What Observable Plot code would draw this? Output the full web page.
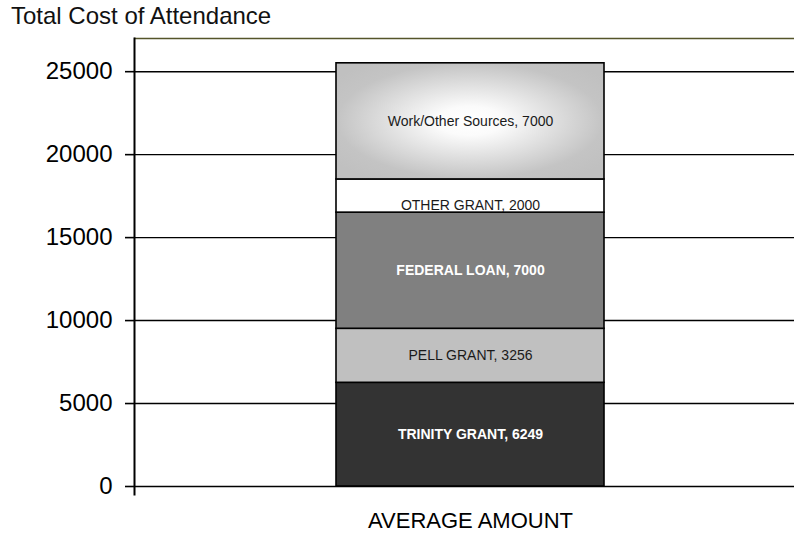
<!DOCTYPE html>
<html><head><meta charset="utf-8">
<script src="https://cdn.jsdelivr.net/npm/d3@7"></script>
<script src="https://cdn.jsdelivr.net/npm/@observablehq/plot@0.6"></script>
<style>
body{margin:0;background:#fff;overflow:hidden;font-family:"Liberation Sans",Arial,sans-serif}
#title{height:30px;font-size:24px;line-height:30px;padding-left:11px;color:#111;position:relative;top:1px;white-space:nowrap}
#chart svg{display:block}
</style></head><body>
<div id="title">Total Cost of Attendance</div>
<div id="chart"></div>
<script>
const group = "AVERAGE AMOUNT";
const sources = ["TRINITY GRANT", "PELL GRANT", "FEDERAL LOAN", "OTHER GRANT", "Work/Other Sources"];
const amounts = [6249, 3256, 7000, 2000, 7000];
const fills = ["#333333", "#c0c0c0", "#808080", "#ffffff", "url(#wgrad)"];
const yTicks = [0, 5000, 10000, 15000, 20000, 25000];
const yMax = 27000;
const darkLabels = ["TRINITY GRANT", "FEDERAL LOAN"];
const lowLabels = ["OTHER GRANT"];

const data = sources.map((s, i) => ({group, source: s, amount: amounts[i], label: `${s}, ${amounts[i]}`}));

const stackText = (pick) => Plot.stackY({
  x: "group", y: "amount",
  text: d => pick(d.source) ? d.label : null
});

const chart = Plot.plot({
  width: 794,
  height: 505,
  marginLeft: 134,
  marginRight: 0,
  marginTop: 8,
  marginBottom: 49,
  x: {domain: [group], range: [336, 604], padding: 0, axis: null, label: null},
  y: {domain: [0, yMax], axis: null, label: null},
  color: {domain: sources, range: fills},
  style: {fontFamily: "'Liberation Sans', Arial, sans-serif", color: "black", overflow: "visible", background: "white"},
  marks: [
    Plot.gridY(yTicks, {stroke: "black", strokeOpacity: 1, strokeWidth: 1.4}),
    Plot.ruleY([yMax], {stroke: "#55552a", strokeWidth: 1.6}),
    Plot.barY(data, Plot.stackY({x: "group", y: "amount", fill: "source", stroke: "black", strokeWidth: 1.6})),
    Plot.text(data, {...stackText(s => darkLabels.includes(s)), fill: "white", fontWeight: "bold", fontSize: 14}),
    Plot.text(data, {...stackText(s => !darkLabels.includes(s) && !lowLabels.includes(s)), fill: "#1a1a1a", fontSize: 14}),
    Plot.text(data, {...stackText(s => lowLabels.includes(s)), fill: "#1a1a1a", fontSize: 14, dy: 9}),
    Plot.frame({anchor: "left", stroke: "black", strokeWidth: 2, insetBottom: -8}),
    Plot.axisY(yTicks, {tickSize: 9, tickPadding: 13, fontSize: 24, tickFormat: "d", stroke: "black", strokeWidth: 1.6, fill: "black", label: null}),
    Plot.axisX({tickSize: 0, tickPadding: 26, fontSize: 22, fill: "black", label: null})
  ]
});

const svgNS = "http://www.w3.org/2000/svg";
const defs = document.createElementNS(svgNS, "defs");
const grad = document.createElementNS(svgNS, "radialGradient");
grad.setAttribute("id", "wgrad");
grad.setAttribute("cx", "50%");
grad.setAttribute("cy", "50%");
grad.setAttribute("r", "62%");
[["0%", "#ffffff"], ["20%", "#fbfbfb"], ["80%", "#c4c4c4"], ["100%", "#c0c0c0"]].forEach(([o, c]) => {
  const st = document.createElementNS(svgNS, "stop");
  st.setAttribute("offset", o);
  st.setAttribute("stop-color", c);
  grad.appendChild(st);
});
defs.appendChild(grad);
chart.insertBefore(defs, chart.firstChild);
document.getElementById("chart").appendChild(chart);
</script>
</body></html>
